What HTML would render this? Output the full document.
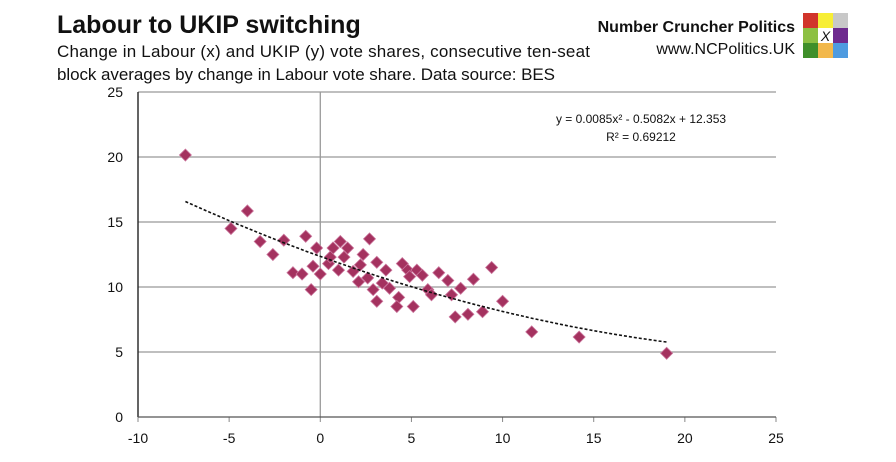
<!DOCTYPE html>
<html><head><meta charset="utf-8"><style>
body{margin:0;background:#fff;width:896px;height:462px;overflow:hidden;font-family:"Liberation Sans",sans-serif}
svg{position:absolute;left:0;top:0}
</style></head><body>
<svg width="896" height="462" xmlns="http://www.w3.org/2000/svg">
<text x="57" y="33" font-size="25" font-weight="bold" fill="#111">Labour to UKIP switching</text>
<text x="57" y="57" font-size="17" fill="#111" textLength="533">Change in Labour (x) and UKIP (y) vote shares, consecutive ten-seat</text>
<text x="57" y="80" font-size="17" fill="#111" textLength="498">block averages by change in Labour vote share. Data source: BES</text>
<text x="795" y="32" font-size="16" font-weight="bold" text-anchor="end" fill="#111">Number Cruncher Politics</text>
<text x="795" y="54" font-size="16" text-anchor="end" fill="#111">www.NCPolitics.UK</text>
<g>
<rect x="803" y="13" width="15" height="15" fill="#d1352b"/><rect x="818" y="13" width="15" height="15" fill="#f7ee35"/><rect x="833" y="13" width="15" height="15" fill="#c8c8c8"/>
<rect x="803" y="28" width="15" height="15" fill="#8dc043"/><rect x="818" y="28" width="15" height="15" fill="#fff"/><rect x="833" y="28" width="15" height="15" fill="#6e2a8e"/>
<rect x="803" y="43" width="15" height="15" fill="#3f8f2a"/><rect x="818" y="43" width="15" height="15" fill="#f2b84b"/><rect x="833" y="43" width="15" height="15" fill="#4e9be0"/>
<text x="825.5" y="41" font-size="14" font-style="italic" text-anchor="middle" fill="#111">X</text>
</g>
<g id="plot"></g>
<text x="641" y="123" font-size="12" text-anchor="middle" fill="#111">y = 0.0085x² - 0.5082x + 12.353</text>
<text x="641" y="141" font-size="12" text-anchor="middle" fill="#111">R² = 0.69212</text>
</svg>
<script>
const xTicks=[-10,-5,0,5,10,15,20,25];
const yTicks=[0,5,10,15,20,25];
const labourChange=[-7.4,-4.0,-4.9,-3.3,-2.6,-2.0,-1.5,-1.0,-0.8,-0.5,-0.4,-0.2,0,0.45,0.7,1.1,1.5,1.3,1.0,0.55,2.7,2.35,2.2,1.8,2.1,2.6,3.1,3.6,3.4,2.9,3.1,3.8,4.3,4.2,4.5,4.8,4.9,5.3,5.6,5.1,5.9,6.1,6.5,7.0,7.7,7.2,7.4,8.1,8.9,8.4,9.4,10.0,11.6,14.2,19.0];
const ukipChange=[20.15,15.85,14.5,13.5,12.5,13.6,11.1,11.0,13.9,9.8,11.6,13.0,11.0,11.8,13.0,13.5,13.0,12.3,11.3,12.3,13.7,12.5,11.7,11.2,10.4,10.7,11.9,11.3,10.3,9.8,8.9,9.9,9.2,8.5,11.8,11.3,10.8,11.3,10.9,8.5,9.8,9.4,11.1,10.5,9.9,9.4,7.7,7.9,8.1,10.6,11.5,8.9,6.55,6.15,4.9];
const trendCoef=[0.0085,-0.5082,12.353];
const X0=138,X1=776,Y0=417,Y1=92;
const sx=v=>X0+(v-(-10))/35*(X1-X0);
const sy=v=>Y0-v/25*(Y0-Y1);
const NS='http://www.w3.org/2000/svg';
const g=document.getElementById('plot');
function mk(t,a){const e=document.createElementNS(NS,t);for(const k in a)e.setAttribute(k,a[k]);g.appendChild(e);return e;}
yTicks.forEach(v=>{
 if(v>0){const l=mk('line',{x1:X0,x2:X1,y1:sy(v),y2:sy(v),stroke:'#999','stroke-width':1.3});
 
 }
 const t=mk('text',{x:X0-15,y:sy(v)+5,'font-size':14,'text-anchor':'end',fill:'#111'});t.textContent=v;
 
 
});
xTicks.forEach(v=>{
 const t=mk('text',{x:sx(v),y:443,'font-size':14,'text-anchor':'middle',fill:'#111'});t.textContent=v;
 
 
 const k=mk('line',{x1:sx(v),x2:sx(v),y1:Y0,y2:Y0+5,stroke:'#888'});
 
 
});
const za=mk('line',{x1:sx(0),x2:sx(0),y1:Y1,y2:Y0,stroke:'#999','stroke-width':1.3});


const ya=mk('line',{x1:X0,x2:X0,y1:Y1,y2:Y0,stroke:'#222','stroke-width':1.4});


const xa=mk('line',{x1:X0,x2:X1,y1:Y0,y2:Y0,stroke:'#555','stroke-width':1.3});


labourChange.forEach((x,i)=>{
 const cx=sx(x),cy=sy(ukipChange[i]),r=6;
 const p=mk('polygon',{points:`${cx},${cy-r} ${cx+r},${cy} ${cx},${cy+r} ${cx-r},${cy}`,fill:'#a4325f',stroke:'#c9739a','stroke-width':0.8});
 
 
});
const xmin=Math.min(...labourChange),xmax=Math.max(...labourChange);
let d='';for(let i=0;i<=60;i++){const x=xmin+(xmax-xmin)*i/60;const y=trendCoef[0]*x*x+trendCoef[1]*x+trendCoef[2];d+=(i?'L':'M')+sx(x).toFixed(1)+','+sy(y).toFixed(1);}
const tl=mk('path',{d:d,fill:'none',stroke:'#111','stroke-width':1.6,'stroke-dasharray':'3,2'});


</script>
</body></html>
